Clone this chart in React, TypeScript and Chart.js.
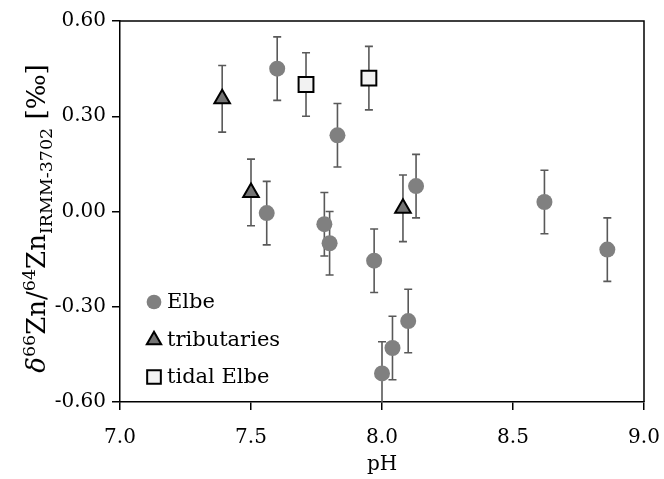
import React, { useEffect, useRef } from 'react';
import { Chart, registerables } from 'chart.js';

Chart.register(...registerables);

// ---- data ----
const elbePH = [7.60, 7.83, 7.56, 7.78, 7.80, 7.97, 8.13, 8.10, 8.04, 8.00, 8.62, 8.86];
const elbeZn = [0.45, 0.24, -0.005, -0.04, -0.10, -0.155, 0.08, -0.345, -0.43, -0.51, 0.03, -0.12];
const elbeErr = [0.10, 0.10, 0.10, 0.10, 0.10, 0.10, 0.10, 0.10, 0.10, 0.10, 0.10, 0.10];

const tribPH = [7.39, 7.50, 8.08];
const tribZn = [0.355, 0.06, 0.01];
const tribErr = [0.105, 0.105, 0.105];

const tidalPH = [7.71, 7.95];
const tidalZn = [0.40, 0.42];
const tidalErr = [0.10, 0.10];

const xTicks = [7.0, 7.5, 8.0, 8.5, 9.0];
const yTicks = [-0.6, -0.3, 0.0, 0.3, 0.6];

const legendLabels = ['Elbe', 'tributaries', 'tidal Elbe'];
const xTitle = 'pH';

const FONT = "'DejaVu Serif', serif";

const toPoints = (xs: number[], ys: number[]) => xs.map((x, i) => ({ x, y: ys[i] }));

const errorBars = {
  id: 'errorBars',
  beforeDatasetsDraw(chart: any) {
    const { ctx, chartArea, scales } = chart;
    const xs = scales.x, ys = scales.y;
    ctx.save();
    ctx.beginPath();
    ctx.rect(chartArea.left, chartArea.top, chartArea.right - chartArea.left, chartArea.bottom - chartArea.top);
    ctx.clip();
    ctx.strokeStyle = '#595959';
    ctx.lineWidth = 1.6;
    chart.data.datasets.forEach((ds: any) => {
      ds.data.forEach((p: any, i: number) => {
        const e = ds.errors[i];
        const px = xs.getPixelForValue(p.x);
        const yt = ys.getPixelForValue(p.y + e);
        const yb = ys.getPixelForValue(p.y - e);
        const cap = 4;
        ctx.beginPath();
        ctx.moveTo(px, yt);
        ctx.lineTo(px, yb);
        ctx.moveTo(px - cap, yt);
        ctx.lineTo(px + cap, yt);
        ctx.moveTo(px - cap, yb);
        ctx.lineTo(px + cap, yb);
        ctx.stroke();
      });
    });
    ctx.restore();
  },
};

const frame = {
  id: 'frame',
  afterDraw(chart: any) {
    const { ctx, chartArea } = chart;
    ctx.save();
    ctx.strokeStyle = '#000';
    ctx.lineWidth = 1.5;
    ctx.beginPath();
    ctx.moveTo(chartArea.left, chartArea.top);
    ctx.lineTo(chartArea.right, chartArea.top);
    ctx.lineTo(chartArea.right, chartArea.bottom);
    ctx.stroke();
    ctx.restore();
  },
};

function drawMarker(ctx: CanvasRenderingContext2D, ds: any, x: number, y: number) {
  const r = ds.pointRadius;
  ctx.save();
  ctx.fillStyle = ds.backgroundColor;
  ctx.strokeStyle = ds.borderColor;
  ctx.lineWidth = ds.borderWidth;
  ctx.beginPath();
  if (ds.pointStyle === 'circle') {
    ctx.arc(x, y, r, 0, Math.PI * 2);
  } else if (ds.pointStyle === 'triangle') {
    let a = 0;
    ctx.moveTo(x + Math.sin(a) * r, y - Math.cos(a) * r);
    a += (2 * Math.PI) / 3;
    ctx.lineTo(x + Math.sin(a) * r, y - Math.cos(a) * r);
    a += (2 * Math.PI) / 3;
    ctx.lineTo(x + Math.sin(a) * r, y - Math.cos(a) * r);
    ctx.closePath();
  } else {
    const s = Math.SQRT1_2 * r;
    ctx.rect(x - s, y - s, 2 * s, 2 * s);
  }
  ctx.fill();
  if (ds.borderWidth > 0) ctx.stroke();
  ctx.restore();
}

const innerLegend = {
  id: 'innerLegend',
  afterDraw(chart: any) {
    const { ctx, chartArea } = chart;
    const mx = chartArea.left + 34;
    const tx = chartArea.left + 47;
    const rows = [chartArea.bottom - 100, chartArea.bottom - 62, chartArea.bottom - 25];
    ctx.save();
    chart.data.datasets.forEach((ds: any, i: number) => {
      drawMarker(ctx, { ...ds, pointRadius: ds.pointRadius * 0.92 }, mx, rows[i]);
      ctx.fillStyle = '#000';
      ctx.font = `21px ${FONT}`;
      ctx.textAlign = 'left';
      ctx.textBaseline = 'middle';
      ctx.fillText(ds.label, tx, rows[i] + 1);
    });
    ctx.restore();
  },
};

const yTitle = {
  id: 'yTitle',
  afterDraw(chart: any) {
    const { ctx, chartArea } = chart;
    const fs = 26;
    const small = 17.5;
    const parts = [
      { t: 'δ', f: `italic ${fs}px ${FONT}`, dy: 0 },
      { t: '66', f: `${small}px ${FONT}`, dy: -0.4 * fs },
      { t: 'Zn/', f: `${fs}px ${FONT}`, dy: 0 },
      { t: '64', f: `${small}px ${FONT}`, dy: -0.4 * fs },
      { t: 'Zn', f: `${fs}px ${FONT}`, dy: 0 },
      { t: 'IRMM-3702', f: `${small}px ${FONT}`, dy: 0.26 * fs },
      { t: ' [‰]', f: `${fs}px ${FONT}`, dy: 0 },
    ];
    ctx.save();
    let total = 0;
    const widths = parts.map((p) => {
      ctx.font = p.f;
      const w = ctx.measureText(p.t).width;
      total += w;
      return w;
    });
    const cy = (chartArea.top + chartArea.bottom) / 2 + 7;
    ctx.translate(45, cy);
    ctx.rotate(-Math.PI / 2);
    ctx.fillStyle = '#000';
    ctx.textBaseline = 'alphabetic';
    ctx.textAlign = 'left';
    let x = -total / 2;
    parts.forEach((p, i) => {
      ctx.font = p.f;
      ctx.fillText(p.t, x, p.dy);
      x += widths[i];
    });
    ctx.restore();
  },
};

export default function App() {
  const ref = useRef<HTMLCanvasElement | null>(null);

  useEffect(() => {
    document.body.style.margin = '0';
    if (!ref.current) return;
    const tickFont = { family: FONT, size: 20 };
    const chart = new Chart(ref.current, {
      type: 'scatter',
      data: {
        datasets: [
          {
            label: legendLabels[0],
            data: toPoints(elbePH, elbeZn),
            errors: elbeErr,
            pointStyle: 'circle',
            pointRadius: 8,
            backgroundColor: '#808080',
            borderColor: '#808080',
            borderWidth: 0,
          } as any,
          {
            label: legendLabels[1],
            data: toPoints(tribPH, tribZn),
            errors: tribErr,
            pointStyle: 'triangle',
            pointRadius: 9,
            backgroundColor: '#737373',
            borderColor: '#000000',
            borderWidth: 2,
          } as any,
          {
            label: legendLabels[2],
            data: toPoints(tidalPH, tidalZn),
            errors: tidalErr,
            pointStyle: 'rect',
            pointRadius: 10.5,
            backgroundColor: '#f2f2f2',
            borderColor: '#000000',
            borderWidth: 2,
          } as any,
        ],
      },
      options: {
        animation: false,
        responsive: true,
        maintainAspectRatio: false,
        layout: { padding: { top: 21, right: 20, left: 0, bottom: 0 } },
        plugins: { legend: { display: false }, tooltip: { enabled: false } },
        scales: {
          x: {
            type: 'linear',
            min: 7,
            max: 9,
            afterBuildTicks: (s: any) => {
              s.ticks = xTicks.map((v) => ({ value: v }));
            },
            afterFit: (s: any) => {
              s.height = 77;
              s.paddingLeft = 0;
              s.paddingRight = 0;
            },
            grid: { drawOnChartArea: false, drawTicks: true, tickLength: 8, color: '#000', lineWidth: 1.5 },
            border: { display: true, color: '#000', width: 1.5 },
            ticks: {
              font: tickFont,
              color: '#000',
              padding: 16,
              maxRotation: 0,
              autoSkip: false,
              callback: (v: any) => Number(v).toFixed(1),
            },
            title: { display: true, text: xTitle, font: tickFont, color: '#000', padding: { top: 0, bottom: 2 } },
          },
          y: {
            type: 'linear',
            min: -0.6,
            max: 0.6,
            afterBuildTicks: (s: any) => {
              s.ticks = yTicks.map((v) => ({ value: v }));
            },
            afterFit: (s: any) => {
              s.width = 120;
              s.paddingTop = 0;
              s.paddingBottom = 0;
            },
            grid: { drawOnChartArea: false, drawTicks: true, tickLength: 8, color: '#000', lineWidth: 1.5 },
            border: { display: true, color: '#000', width: 1.5 },
            ticks: {
              font: tickFont,
              color: '#000',
              padding: 6,
              autoSkip: false,
              callback: (v: any) => Number(v).toFixed(2),
            },
          },
        },
      } as any,
      plugins: [errorBars, frame, innerLegend, yTitle],
    });
    return () => chart.destroy();
  }, []);

  return (
    <div style={{ width: 664, height: 479, position: 'relative' }}>
      <canvas ref={ref} />
    </div>
  );
}
